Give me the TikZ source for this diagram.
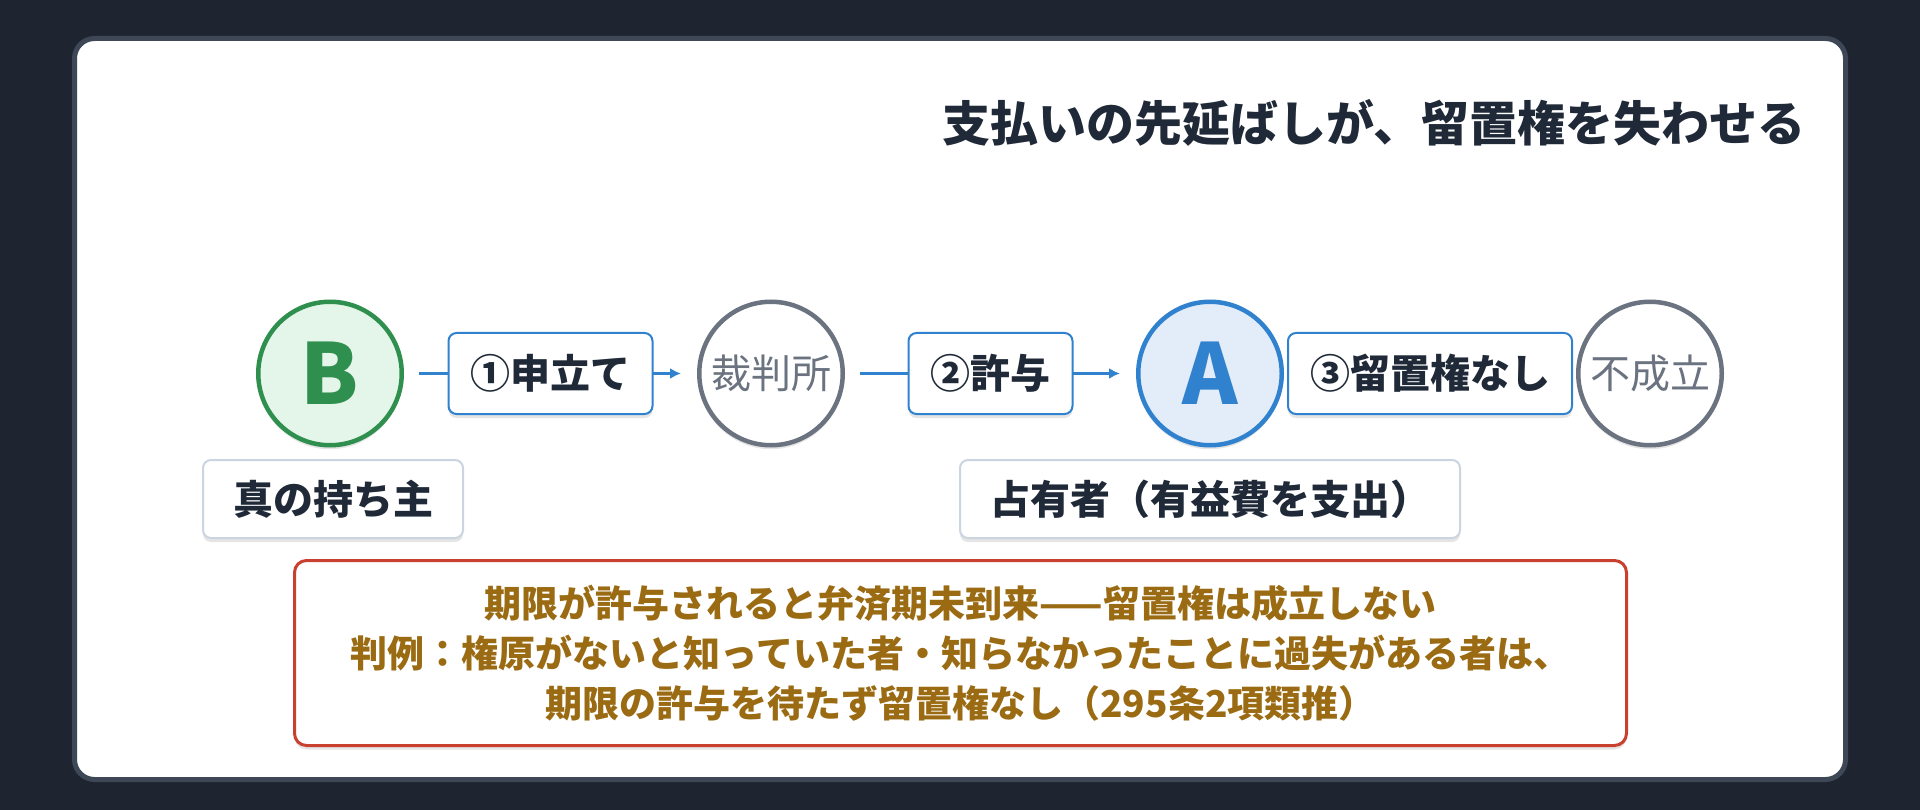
\documentclass[tikz,border=0pt]{standalone}
\usepackage{fontspec}
\setmainfont{Noto Sans CJK JP}
\usetikzlibrary{shadows,arrows.meta}
\definecolor{bgdark}{HTML}{1E2430}
\definecolor{cardline}{HTML}{3D4756}
\definecolor{ink}{HTML}{1F2937}
\definecolor{flowblue}{HTML}{3182CE}
\definecolor{bluefill}{HTML}{E3EDF9}
\definecolor{greenline}{HTML}{2F8F4E}
\definecolor{greenfill}{HTML}{E4F5E9}
\definecolor{grayline}{HTML}{6B7280}
\definecolor{lightline}{HTML}{CBD5E1}
\definecolor{redline}{HTML}{C9402F}
\definecolor{gold}{HTML}{9A6B12}
\tikzset{
  softshadow/.style={drop shadow={shadow xshift=0pt, shadow yshift=-4pt, opacity=0.10, fill=black}},
  circbase/.style={circle, line width=4.5pt, minimum size=143.5pt, inner sep=0pt, softshadow},
  circgreen/.style={circbase, draw=greenline, fill=greenfill, text=greenline, font=\fontsize{84}{84}\selectfont\bfseries},
  circblue/.style={circbase, draw=flowblue, fill=bluefill, text=flowblue, font=\fontsize{84}{84}\selectfont\bfseries},
  circgray/.style={circbase, draw=grayline, fill=white, text=grayline, font=\fontsize{40}{44}\selectfont},
  stepbox/.style={rectangle, rounded corners=8pt, draw=flowblue, line width=2pt, fill=white, text=ink,
    minimum height=81pt, inner xsep=22pt, inner ysep=0pt, font=\fontsize{40}{44}\selectfont\bfseries, softshadow},
  rolebox/.style={rectangle, rounded corners=8pt, draw=lightline, line width=2pt, fill=white, text=ink,
    minimum height=78pt, inner xsep=30pt, inner ysep=0pt, font=\fontsize{40}{44}\selectfont\bfseries, softshadow},
  notebox/.style={rectangle, rounded corners=12pt, draw=redline, line width=3pt, fill=white, text=gold,
    minimum width=1332pt, minimum height=185pt, align=center, font=\fontsize{37}{50}\selectfont\bfseries, softshadow},
  flow/.style={draw=flowblue, line width=3pt, -{Latex[length=11pt,width=11pt]}, shorten <=15pt, shorten >=16pt},
  titletext/.style={text=ink, font=\fontsize{48}{56}\selectfont\bfseries, inner sep=0pt}
}
\begin{document}
\begin{tikzpicture}[x=1pt,y=-1pt]
\useasboundingbox (0,0) rectangle (1920,810);
\fill[bgdark] (0,0) rectangle (1920,810);
\draw[cardline, line width=5pt, fill=white, rounded corners=20pt] (74.5,38.5) rectangle (1845.5,779.5);

\node[titletext, anchor=east] (title) at (1806,123) {支払いの先延ばしが、留置権を失わせる};

\node[circgreen] (B) at (330,373.5) {B};
\node[circgray] (court) at (771,373.5) {裁判所};
\node[circblue] (A) at (1210,373.5) {A};
\node[circgray] (fail) at (1650,373.5) {不成立};

\draw[flow] (B) -- (court) node[midway, stepbox] (s1) {①申立て};
\draw[flow] (court) -- (A) node[midway, stepbox] (s2) {②許与};
\draw[flow] (A) -- (fail) node[midway, stepbox] (s3) {③留置権なし};

\node[rolebox] (roleB) at (333,499) {真の持ち主};
\node[rolebox] (roleA) at (1210,499) {占有者（有益費を支出）};

\node[notebox] (note) at (960.5,653) {期限が許与されると弁済期未到来——留置権は成立しない\\判例：権原がないと知っていた者・知らなかったことに過失がある者は、\\期限の許与を待たず留置権なし（295条2項類推）};
\end{tikzpicture}
\end{document}
